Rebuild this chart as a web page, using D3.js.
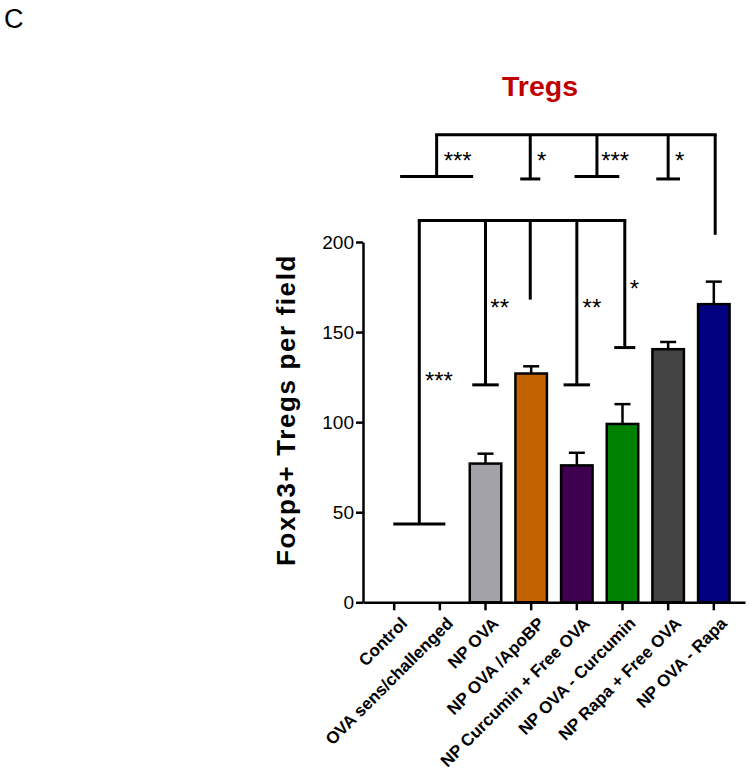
<!DOCTYPE html>
<html>
<head>
<meta charset="utf-8">
<script src="https://cdn.jsdelivr.net/npm/d3@7"></script>
<style>
    body { margin: 0; background: #fff; }
    svg { font-family: "Liberation Sans", Arial, sans-serif; }
</style>
</head>
<body>
<div id="chart"></div>
<script>
"use strict";

var groups = ["Control", "OVA sens/challenged", "NP OVA", "NP OVA /ApoBP",
    "NP Curcumin + Free OVA", "NP OVA - Curcumin", "NP Rapa + Free OVA", "NP OVA - Rapa"];
var means = [0, 0, 77, 127, 76, 99, 140.5, 165.5];
var errors = [0, 0, 5.5, 4, 7, 11, 4, 12.5];
var colors = ["#ffffff", "#ffffff", "#a2a2a8", "#c26200", "#400050", "#008000", "#444444", "#000080"];
var yTicks = [0, 50, 100, 150, 200];

// Significance brackets: positions in category units, heights in data units
// legs: [index, bottom value, foot half-width in category units]
var lowerBracket = { top: 212, legs: [[0.55, 43.5, 0.57], [2, 120.7, 0.29], [2.98, 168, 0],
    [4, 120.7, 0.29], [5.05, 141.4, 0.23]] };
var upperBracket = { top: 259.6, legs: [[0.93, 236.4, 0.8], [2.98, 235, 0.22], [4.44, 236.4, 0.49],
    [6.0, 235, 0.26], [7.03, 204, 0]] };
var starLabels = [
    { i: 0.98, v: 126.3, text: "***" },
    { i: 2.31, v: 167, text: "**" },
    { i: 4.33, v: 167, text: "**" },
    { i: 5.26, v: 177.6, text: "*" },
    { i: 1.39, v: 248.5, text: "***" },
    { i: 3.23, v: 248.5, text: "*" },
    { i: 4.84, v: 248.5, text: "***" },
    { i: 6.25, v: 248.5, text: "*" }
];

var svg = d3.select("#chart").append("svg")
    .attr("width", 750)
    .attr("height", 776);

var x = d3.scaleBand()
    .domain(groups)
    .range([363, 745])
    .paddingInner(0.31)
    .paddingOuter(0.338);
var y = d3.scaleLinear()
    .domain([0, 200])
    .range([602.3, 242]);

// category index (may be fractional) -> pixel
function xi(i) {
    return x(groups[0]) + x.bandwidth() / 2 + i * x.step();
}

svg.append("text")
    .attr("x", 4)
    .attr("y", 28)
    .style("font-size", "27px")
    .text("C");

svg.append("text")
    .attr("x", 540)
    .attr("y", 96)
    .style("text-anchor", "middle")
    .style("font-size", "28.5px")
    .style("font-weight", "bold")
    .style("fill", "#c00000")
    .text("Tregs");

svg.append("text")
    .attr("transform", "translate(286, 410) rotate(-90)")
    .attr("dy", "0.35em")
    .style("text-anchor", "middle")
    .style("font-size", "26px")
    .style("font-weight", "bold")
    .style("letter-spacing", "1.6px")
    .text("Foxp3+ Tregs per field");

// bars
svg.append("g").selectAll("rect")
    .data(means)
    .enter()
    .append("rect")
    .attr("x", function (d, i) { return x(groups[i]); })
    .attr("y", function (d) { return y(d); })
    .attr("width", x.bandwidth())
    .attr("height", function (d) { return y(0) - y(d); })
    .attr("fill", function (d, i) { return colors[i]; })
    .attr("stroke", "#000")
    .attr("stroke-width", 2.5)
    .style("display", function (d) { return d > 0 ? null : "none"; });

// upper error bars
var errG = svg.append("g").attr("stroke", "#000").attr("stroke-width", 2.5);
means.forEach(function (m, i) {
    if (!m) return;
    var cx = x(groups[i]) + x.bandwidth() / 2;
    errG.append("line")
        .attr("x1", cx).attr("x2", cx)
        .attr("y1", y(m)).attr("y2", y(m + errors[i]));
    errG.append("line")
        .attr("x1", cx - 8).attr("x2", cx + 8)
        .attr("y1", y(m + errors[i])).attr("y2", y(m + errors[i]));
});

// axes
var yAxis = d3.axisLeft(y).tickValues(yTicks).tickSize(7).tickSizeOuter(0).tickPadding(2);
var gy = svg.append("g")
    .attr("transform", "translate(363, 0)")
    .call(yAxis);
gy.selectAll("path, line").attr("stroke-width", 2.5);
gy.selectAll("text").style("font-size", "19px").attr("fill", "#000");

var xAxis = d3.axisBottom(x).tickSize(8).tickSizeOuter(0);
var gx = svg.append("g")
    .attr("transform", "translate(0, " + y(0) + ")")
    .call(xAxis);
gx.selectAll("path, line").attr("stroke-width", 2.5);
gx.selectAll("text")
    .attr("x", 0)
    .attr("y", 0)
    .attr("dy", "0.35em")
    .attr("transform", "translate(10, 18) rotate(-45)")
    .style("text-anchor", "end")
    .style("font-size", "17px")
    .style("font-weight", "bold")
    .attr("fill", "#000");

// significance brackets
function drawBracket(b) {
    var g = svg.append("g").attr("stroke", "#000").attr("stroke-width", 3).attr("fill", "none");
    var xs = b.legs.map(function (l) { return xi(l[0]); });
    g.append("line")
        .attr("x1", d3.min(xs) - 1.5).attr("x2", d3.max(xs) + 1.5)
        .attr("y1", y(b.top)).attr("y2", y(b.top));
    b.legs.forEach(function (l) {
        g.append("line")
            .attr("x1", xi(l[0])).attr("x2", xi(l[0]))
            .attr("y1", y(b.top)).attr("y2", y(l[1]));
        if (l[2] > 0) {
            g.append("line")
                .attr("x1", xi(l[0] - l[2])).attr("x2", xi(l[0] + l[2]))
                .attr("y1", y(l[1])).attr("y2", y(l[1]));
        }
    });
}
drawBracket(lowerBracket);
drawBracket(upperBracket);

svg.append("g").selectAll("text")
    .data(starLabels)
    .enter()
    .append("text")
    .attr("x", function (d) { return xi(d.i); })
    .attr("y", function (d) { return y(d.v); })
    .attr("dy", "0.6em")
    .style("text-anchor", "middle")
    .style("font-size", "24px")
    .text(function (d) { return d.text; });
</script>
</body>
</html>
